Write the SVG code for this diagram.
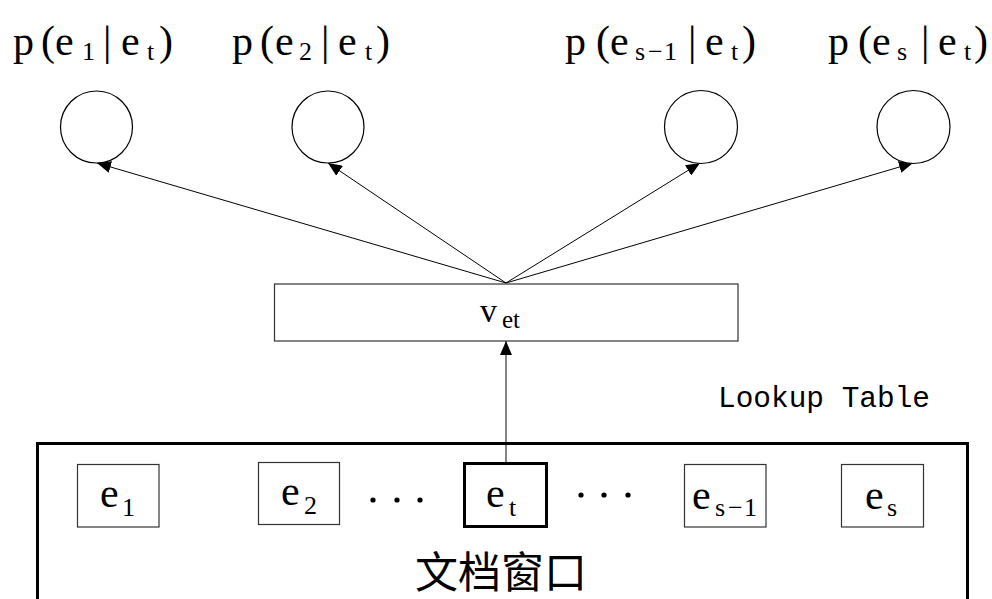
<svg xmlns="http://www.w3.org/2000/svg" width="992" height="599" viewBox="0 0 992 599">
  <defs>
    <marker id="arrow" markerUnits="userSpaceOnUse" markerWidth="14" markerHeight="12" refX="14" refY="6" orient="auto">
      <path d="M0,0 L14,6 L0,12 Z" fill="#000"/>
    </marker>
    <style>
      .lbl { font-family: "Liberation Serif", "DejaVu Serif", serif; font-size: 42px; fill: #000; }
      .sub { font-size: 26px; }
      .box { fill: #fff; stroke: #333; stroke-width: 1.2; }
      .out { fill: #fff; stroke: #000; stroke-width: 1.2; }
      .edge { fill: none; stroke: #000; stroke-width: 1; marker-end: url(#arrow); }
      .up { fill: none; stroke: #444; stroke-width: 1.3; marker-end: url(#arrow); }
      .dot { fill: #000; }
      .cap { font-family: "Liberation Mono", "DejaVu Sans Mono", monospace; font-size: 30px; fill: #000; }
      .cjk { font-family: "Noto Sans CJK SC", sans-serif; font-size: 43px; fill: #000; }
    </style>
  </defs>

  <rect width="992" height="599" fill="#fff"/>

  <!-- connectors -->
  <g id="connectors">
    <line class="edge" x1="506" y1="283" x2="97" y2="163"/>
    <line class="edge" x1="506" y1="283" x2="328" y2="163"/>
    <line class="edge" x1="506" y1="283" x2="700" y2="163"/>
    <line class="edge" x1="506" y1="283" x2="913" y2="163"/>
    <line class="up" x1="506" y1="463" x2="506" y2="341"/>
  </g>

  <!-- output probability nodes -->
  <g id="out1">
    <circle class="out" cx="96.5" cy="127" r="36"/>
    <text class="lbl" y="55"><tspan x="13">p</tspan><tspan x="41">(</tspan><tspan x="55">e</tspan><tspan class="sub" x="82" y="60">1</tspan><tspan x="103" y="55">|</tspan><tspan x="121">e</tspan><tspan class="sub" x="147" y="60">t</tspan><tspan x="159" y="55">)</tspan></text>
  </g>
  <g id="out2">
    <circle class="out" cx="328" cy="127" r="36"/>
    <text class="lbl" y="55"><tspan x="232">p</tspan><tspan x="260">(</tspan><tspan x="275">e</tspan><tspan class="sub" x="299" y="60">2</tspan><tspan x="321" y="55">|</tspan><tspan x="338">e</tspan><tspan class="sub" x="365" y="60">t</tspan><tspan x="376" y="55">)</tspan></text>
  </g>
  <g id="out3">
    <circle class="out" cx="701" cy="127" r="36.5"/>
    <text class="lbl" y="55"><tspan x="565">p</tspan><tspan x="596">(</tspan><tspan x="610">e</tspan><tspan class="sub" x="635" y="60">s</tspan><tspan class="sub" x="648">−</tspan><tspan class="sub" x="664">1</tspan><tspan x="688" y="55">|</tspan><tspan x="705">e</tspan><tspan class="sub" x="731" y="60">t</tspan><tspan x="742" y="55">)</tspan></text>
  </g>
  <g id="out4">
    <circle class="out" cx="913.5" cy="127" r="36.5"/>
    <text class="lbl" y="55"><tspan x="828">p</tspan><tspan x="858">(</tspan><tspan x="872">e</tspan><tspan class="sub" x="897" y="60">s</tspan><tspan x="921" y="55">|</tspan><tspan x="938">e</tspan><tspan class="sub" x="964" y="60">t</tspan><tspan x="974" y="55">)</tspan></text>
  </g>

  <!-- embedding vector -->
  <g id="vet">
    <rect class="box" x="274.5" y="284" width="463.5" height="57"/>
    <text class="lbl" y="322" style="font-size:34px"><tspan x="480">v</tspan><tspan x="502" y="328" style="font-size:25px">et</tspan></text>
  </g>

  <text id="lookup" class="cap" x="718" y="407" textLength="212" lengthAdjust="spacingAndGlyphs">Lookup Table</text>

  <!-- document window -->
  <g id="window">
    <path d="M37.5,605 V443.5 H967.5 V605" fill="none" stroke="#000" stroke-width="3"/>
    <text class="cjk" x="501" y="588" text-anchor="middle">文档窗口</text>
  </g>

  <g id="e1">
    <rect class="box" x="77.5" y="464.5" width="81.5" height="62.5"/>
    <text class="lbl" y="507"><tspan x="100">e</tspan><tspan class="sub" x="122" y="516">1</tspan></text>
  </g>
  <g id="e2">
    <rect class="box" x="258.5" y="462.5" width="81" height="62"/>
    <text class="lbl" y="505"><tspan x="281">e</tspan><tspan class="sub" x="304" y="514">2</tspan></text>
  </g>
  <g id="dots1">
    <circle class="dot" cx="373" cy="500" r="2.6"/>
    <circle class="dot" cx="397" cy="500" r="2.6"/>
    <circle class="dot" cx="420" cy="500" r="2.6"/>
  </g>
  <g id="et">
    <rect x="464.5" y="463.5" width="82" height="63" fill="#fff" stroke="#000" stroke-width="3"/>
    <text class="lbl" y="507"><tspan x="486">e</tspan><tspan class="sub" x="509" y="516">t</tspan></text>
  </g>
  <g id="dots2">
    <circle class="dot" cx="581" cy="495" r="2.6"/>
    <circle class="dot" cx="604" cy="495" r="2.6"/>
    <circle class="dot" cx="628" cy="495" r="2.6"/>
  </g>
  <g id="es1">
    <rect class="box" x="684.5" y="464.5" width="81.5" height="62.5"/>
    <text class="lbl" y="509"><tspan x="692">e</tspan><tspan class="sub" x="715" y="516">s</tspan><tspan class="sub" x="728">−</tspan><tspan class="sub" x="744">1</tspan></text>
  </g>
  <g id="es">
    <rect class="box" x="841.5" y="464.5" width="82" height="62.5"/>
    <text class="lbl" y="509"><tspan x="865">e</tspan><tspan class="sub" x="887" y="516">s</tspan></text>
  </g>
</svg>
